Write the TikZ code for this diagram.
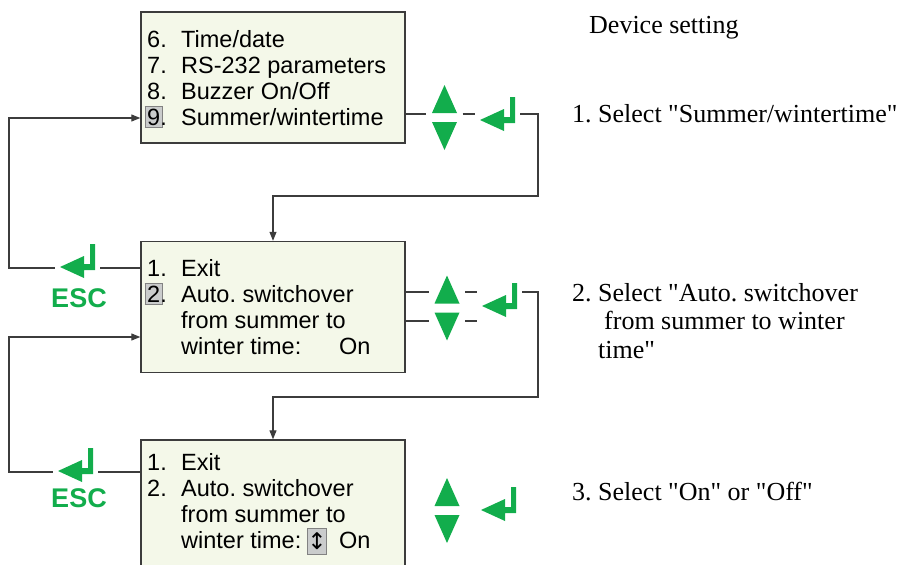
\documentclass[tikz,border=0pt]{standalone}
\usepackage{fontspec}
\setmainfont{Liberation Serif}
\setsansfont{Liberation Sans}
\newfontfamily\symfont{DejaVu Sans}
\usetikzlibrary{arrows.meta,positioning}
\frenchspacing

\definecolor{keygreen}{RGB}{18,173,76}
\definecolor{lcdfill}{RGB}{244,248,233}
\definecolor{edgegray}{RGB}{60,60,60}
\definecolor{selfill}{RGB}{202,204,204}
\definecolor{selframe}{RGB}{130,130,130}

\newcommand{\hlsel}[1]{{\setlength{\fboxsep}{2pt}\setlength{\fboxrule}{0.6pt}\hspace{-2.6pt}\fcolorbox{selframe}{selfill}{#1}\hspace{-2.6pt}}}
\newcommand{\sq}{\textquotedbl}

\tikzset{
  screen/.style={draw=edgegray, line width=1.4pt, fill=lcdfill, minimum width=264pt, minimum height=131pt, inner sep=0pt},
  menu/.style={anchor=base west, inner sep=0pt, font=\sffamily\fontsize{23.5}{26}\selectfont},
  conn/.style={draw=edgegray, line width=1.1pt},
  into/.style={conn, -{Triangle[length=9pt,width=7pt]}},
  esclabel/.style={text=keygreen, inner sep=0pt, font=\sffamily\bfseries\fontsize{27}{27}\selectfont},
  note/.style={anchor=base west, inner sep=0pt, font=\fontsize{26}{28.5}\selectfont},
  selmark/.style={fill=selfill, draw=selframe, line width=0.6pt, minimum width=16pt, minimum height=26pt, inner sep=0pt, font=\symfont\fontsize{23}{23}\selectfont},
  updown/.pic={
    \fill[keygreen] (-12.5,-4.5) -- (12.5,-4.5) -- (0,-32.5) -- cycle;
    \fill[keygreen] (-12.5,4.5) -- (12.5,4.5) -- (0,32.5) -- cycle;
    \node[minimum width=36pt, minimum height=65pt, inner sep=0pt] (-box) at (0,0) {};
  },
  enterkey/.pic={
    \fill[keygreen] (0,0) -- (24,-11) -- (24,-3) -- (30,-3) -- (30,-23) -- (35,-23)
      -- (35,3) -- (24,3) -- (24,11) -- cycle;
    \node[minimum width=45pt, minimum height=34pt, inner sep=0pt] (-box) at (17.5,0) {};
  }
}

\begin{document}
\begin{tikzpicture}[x=1pt, y=-1pt]
  \useasboundingbox (0,0) rectangle (903,565);
  \clip (0,0) rectangle (903,565);

  % screens
  \node[screen] (s1) at (273,77.5) {};
  \node[screen] (s2) at (273,307) {};
  \node[screen] (s3) at (273,505.5) {};

  \node[menu] (m1a) at (147,47) {\makebox[34pt][l]{6.}Time/date};
  \node[menu] (m1b) at (147,73) {\makebox[34pt][l]{7.}RS-232 parameters};
  \node[menu] (m1c) at (147,99) {\makebox[34pt][l]{8.}Buzzer On/Off};
  \node[menu] (m1d) at (147,125) {\makebox[34pt][l]{\hlsel{9}.}Summer/wintertime};

  \node[menu] (m2a) at (147,276) {\makebox[34pt][l]{1.}Exit};
  \node[menu] (m2b) at (147,302) {\makebox[34pt][l]{\hlsel{2}.}Auto. switchover};
  \node[menu] (m2c) at (181,328) {from summer to};
  \node[menu] (m2d) at (181,354) {winter time:};
  \node[menu] (m2e) at (339,354) {On};

  \node[menu] (m3a) at (147,470) {\makebox[34pt][l]{1.}Exit};
  \node[menu] (m3b) at (147,496) {\makebox[34pt][l]{2.}Auto. switchover};
  \node[menu] (m3c) at (181,522) {from summer to};
  \node[menu] (m3d) at (181,548) {winter time:};
  \node[selmark] (sw3) at (317,541) {↕};
  \node[menu] (m3e) at (339,548) {On};

  % keys
  \pic (ud1) at (444.5,117.5) {updown};
  \pic (en1) at (480,120) {enterkey};
  \pic (ud2) at (447,308) {updown};
  \pic (en2) at (482,306) {enterkey};
  \pic (ud3) at (447,510.5) {updown};
  \pic (en3) at (481,510) {enterkey};
  \pic (esc2) at (60,267) {enterkey};
  \pic (esc3) at (58,471) {enterkey};
  \node[esclabel] (esc2t) at (79,298) {ESC};
  \node[esclabel] (esc3t) at (79,498) {ESC};

  % rows and bends
  \coordinate (r1) at (0,114);
  \coordinate (r2a) at (0,292);
  \coordinate (r2b) at (0,321);
  \coordinate (e2) at (0,268);
  \coordinate (e3) at (0,472);
  \coordinate (k1) at (538,196);
  \coordinate (k2) at (538,397);
  \coordinate (b1) at (9,118);
  \coordinate (b2) at (9,337);

  \draw[conn] (s1.east |- r1) -- (ud1-box.west |- r1);
  \draw[conn] (ud1-box.east |- r1) -- (en1-box.west |- r1);
  \draw[into] (en1-box.east |- r1) -| (k1) -| (s2.north);

  \draw[conn] (s2.east |- r2a) -- (ud2-box.west |- r2a);
  \draw[conn] (s2.east |- r2b) -- (ud2-box.west |- r2b);
  \draw[conn] (ud2-box.east |- r2a) -- (en2-box.west |- r2a);
  \draw[conn] (ud2-box.east |- r2b) -- (en2-box.west |- r2b);
  \draw[into] (en2-box.east |- r2a) -| (k2) -| (s3.north);

  \draw[conn] (s2.west |- e2) -- (esc2-box.east |- e2);
  \draw[into] (esc2-box.west |- e2) -| (b1) -- (s1.west |- b1);
  \draw[conn] (s3.west |- e3) -- (esc3-box.east |- e3);
  \draw[into] (esc3-box.west |- e3) -| (b2) -- (s2.west |- b2);

  % notes
  \node[note] (t0) at (589,33) {Device setting};
  \node[note] (t1) at (572,122) {1. Select \sq Summer/wintertime\sq};
  \node[note] (t2a) at (572,301) {2. Select \sq Auto. switchover};
  \node[note] (t2b) at (604,329) {from summer to winter};
  \node[note] (t2c) at (598,358) {time\sq};
  \node[note] (t3) at (572,500) {3. Select \sq On\sq{} or \sq Off\sq};
\end{tikzpicture}
\end{document}
